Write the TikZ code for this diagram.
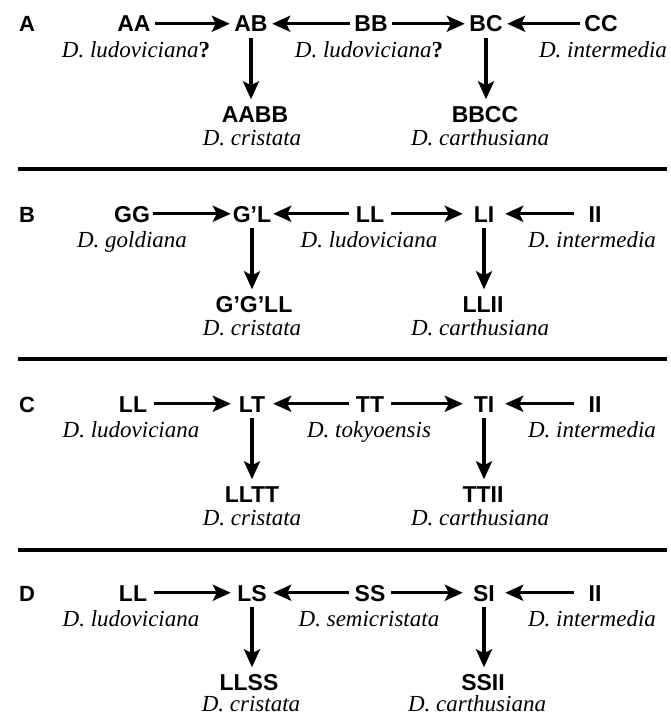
\documentclass[tikz,border=0pt]{standalone}
\usepackage{fontspec}
\setmainfont{Liberation Serif}
\newfontfamily\hsans{Liberation Sans}
\usetikzlibrary{arrows.meta}
\tikzset{
  gen/.style={font=\hsans\bfseries\fontsize{23}{23}\selectfont, anchor=base,
    inner xsep=0pt, inner ysep=6pt, text height=16.5pt, text depth=0pt, minimum width=42pt},
  sp/.style={font=\itshape\fontsize{23}{23}\selectfont, anchor=base, inner sep=0pt},
  plabel/.style={font=\hsans\bfseries\fontsize{22}{22}\selectfont, anchor=base, inner sep=0pt},
  arr/.style={line width=3.4pt, -{Stealth[length=18pt,width=16pt,inset=4pt]}},
  sepline/.style={line width=3.2pt},
}
\newcommand{\qm}{{\upshape\bfseries ?}}
\begin{document}
\begin{tikzpicture}[x=1pt,y=-1pt]
\useasboundingbox (0,0) rectangle (670,717);
% ---------- Panel A ----------
\node[plabel] (LA) at (27,32) {A};
\node[gen] (a1) at (134,32) {AA};
\node[gen] (a2) at (251,32) {AB};
\node[gen] (a3) at (371,32) {BB};
\node[gen] (a4) at (486,32) {BC};
\node[gen] (a5) at (601,32) {CC};
\node[sp] (ai1) at (136,57) {D. ludoviciana\qm};
\node[sp] (ai3) at (369,57) {D. ludoviciana\qm};
\node[sp] (ai5) at (603,57) {D. intermedia};
\node[gen] (ab2) at (255,122) {AABB};
\node[gen] (ab4) at (485,122) {BBCC};
\node[sp] (abi2) at (252,145) {D. cristata};
\node[sp] (abi4) at (480,145) {D. carthusiana};
\draw[arr] (a1.east) -- (a2.west);
\draw[arr] (a3.west) -- (a2.east);
\draw[arr] (a3.east) -- (a4.west);
\draw[arr] (a5.west) -- (a4.east);
\draw[arr] (a2.south) -- (a2.south |- ab2.north);
\draw[arr] (a4.south) -- (a4.south |- ab4.north);
\draw[sepline] (18,169) -- (667,169);
% ---------- Panel B ----------
\node[plabel] (LB) at (27,222) {B};
\node[gen] (b1) at (132,222) {GG};
\node[gen] (b2) at (252,222) {G’L};
\node[gen] (b3) at (370,222) {LL};
\node[gen] (b4) at (484,222) {LI};
\node[gen] (b5) at (595,222) {II};
\node[sp] (bi1) at (132,247) {D. goldiana};
\node[sp] (bi3) at (369,247) {D. ludoviciana};
\node[sp] (bi5) at (592,247) {D. intermedia};
\node[gen] (bb2) at (254,312) {G’G’LL};
\node[gen] (bb4) at (483,312) {LLII};
\node[sp] (bbi2) at (252,335) {D. cristata};
\node[sp] (bbi4) at (480,335) {D. carthusiana};
\draw[arr] (b1.east) -- (b2.west);
\draw[arr] (b3.west) -- (b2.east);
\draw[arr] (b3.east) -- (b4.west);
\draw[arr] (b5.west) -- (b4.east);
\draw[arr] (b2.south) -- (b2.south |- bb2.north);
\draw[arr] (b4.south) -- (b4.south |- bb4.north);
\draw[sepline] (18,359) -- (667,359);
% ---------- Panel C ----------
\node[plabel] (LC) at (27,412) {C};
\node[gen] (c1) at (133,412) {LL};
\node[gen] (c2) at (252,412) {LT};
\node[gen] (c3) at (370,412) {TT};
\node[gen] (c4) at (484,412) {TI};
\node[gen] (c5) at (595,412) {II};
\node[sp] (ci1) at (131,437) {D. ludoviciana};
\node[sp] (ci3) at (369,437) {D. tokyoensis};
\node[sp] (ci5) at (592,437) {D. intermedia};
\node[gen] (cb2) at (252,502) {LLTT};
\node[gen] (cb4) at (483,502) {TTII};
\node[sp] (cbi2) at (252,525) {D. cristata};
\node[sp] (cbi4) at (480,525) {D. carthusiana};
\draw[arr] (c1.east) -- (c2.west);
\draw[arr] (c3.west) -- (c2.east);
\draw[arr] (c3.east) -- (c4.west);
\draw[arr] (c5.west) -- (c4.east);
\draw[arr] (c2.south) -- (c2.south |- cb2.north);
\draw[arr] (c4.south) -- (c4.south |- cb4.north);
\draw[sepline] (18,550) -- (667,550);
% ---------- Panel D ----------
\node[plabel] (LD) at (27,601) {D};
\node[gen] (d1) at (133,601) {LL};
\node[gen] (d2) at (252,601) {LS};
\node[gen] (d3) at (370,601) {SS};
\node[gen] (d4) at (484,601) {SI};
\node[gen] (d5) at (595,601) {II};
\node[sp] (di1) at (131,626) {D. ludoviciana};
\node[sp] (di3) at (369,626) {D. semicristata};
\node[sp] (di5) at (592,626) {D. intermedia};
\node[gen] (db2) at (249,690) {LLSS};
\node[gen] (db4) at (483,690) {SSII};
\node[sp] (dbi2) at (251,711) {D. cristata};
\node[sp] (dbi4) at (477,711) {D. carthusiana};
\draw[arr] (d1.east) -- (d2.west);
\draw[arr] (d3.west) -- (d2.east);
\draw[arr] (d3.east) -- (d4.west);
\draw[arr] (d5.west) -- (d4.east);
\draw[arr] (d2.south) -- (d2.south |- db2.north);
\draw[arr] (d4.south) -- (d4.south |- db4.north);
\end{tikzpicture}
\end{document}
